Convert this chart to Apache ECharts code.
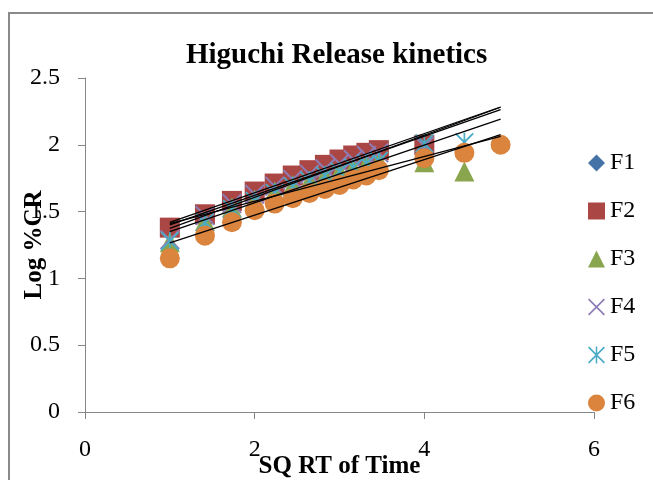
<!DOCTYPE html>
<html>
<head>
<meta charset="utf-8">
<script src="https://cdn.jsdelivr.net/npm/echarts@6/dist/echarts.min.js"></script>
<style>
html,body{margin:0;padding:0;background:#fff;}
#chart{width:653px;height:480px;}
</style>
</head>
<body>
<div id="chart"></div>
<script>
// Square root of time (x values)
var sqrtTime = [1, 1.414, 1.732, 2, 2.236, 2.449, 2.646, 2.828, 3, 3.162, 3.317, 3.464, 4, 4.472, 4.899];
var seriesNames = ['F1', 'F2', 'F3', 'F4', 'F5', 'F6'];
// Log % cumulative release values
var F1 = [1.36, 1.46, 1.56, 1.63, 1.69, 1.75, 1.79, 1.83, 1.87, 1.90, 1.92, 1.94, 1.98];
var F2 = [1.38, 1.48, 1.58, 1.65, 1.71, 1.77, 1.81, 1.85, 1.89, 1.92, 1.94, 1.96, 2.00];
var F3 = [1.27, 1.43, 1.53, 1.59, 1.65, 1.70, 1.73, 1.77, 1.80, 1.83, 1.86, 1.88, 1.87, 1.80];
var F4 = [1.29, 1.47, 1.56, 1.63, 1.69, 1.74, 1.78, 1.82, 1.86, 1.89, 1.92, 1.94, 1.99];
var F5 = [1.28, 1.42, 1.52, 1.58, 1.64, 1.69, 1.73, 1.77, 1.80, 1.83, 1.86, 1.88, 2.01, 2.02];
var F6 = [1.15, 1.32, 1.42, 1.51, 1.56, 1.60, 1.64, 1.67, 1.70, 1.74, 1.77, 1.81, 1.90, 1.94, 2.00];
var allValues = [F1, F2, F3, F4, F5, F6];

var colors = ['#4572A7', '#AA4643', '#89A54E', '#8E7CB5', '#4BACC6', '#DB843D'];
var xPath = 'path://M0,0.7 L0.7,0 L10,9.3 L9.3,10 Z M9.3,0 L10,0.7 L0.7,10 L0,9.3 Z';
var starPath = 'path://M0,0.7 L0.7,0 L10,9.3 L9.3,10 Z M9.3,0 L10,0.7 L0.7,10 L0,9.3 Z M4.55,0 L5.45,0 L5.45,10 L4.55,10 Z';
var symbols = ['diamond', 'rect', 'triangle', xPath, starPath, 'circle'];
var sizes = [15, 20, 20, 20, 19, 20];

var serif = '"Liberation Serif", "DejaVu Serif", serif';

function regress(xs, ys) {
  var n = ys.length, sx = 0, sy = 0, sxx = 0, sxy = 0;
  for (var i = 0; i < n; i++) { sx += xs[i]; sy += ys[i]; sxx += xs[i]*xs[i]; sxy += xs[i]*ys[i]; }
  var b = (n*sxy - sx*sy) / (n*sxx - sx*sx);
  var a = (sy - b*sx) / n;
  return {a: a, b: b};
}

var xMin = Math.min.apply(null, sqrtTime), xMax = Math.max.apply(null, sqrtTime);
var series = [];
allValues.forEach(function (vals, k) {
  series.push({
    name: seriesNames[k], type: 'scatter', symbol: symbols[k], symbolSize: sizes[k],
    itemStyle: {color: colors[k], opacity: 1},
    data: vals.map(function (v, i) { return [sqrtTime[i], v]; }),
    z: 2
  });
});
allValues.forEach(function (vals, k) {
  var r = regress(sqrtTime, vals);
  series.push({
    name: seriesNames[k] + ' trend', type: 'line', showSymbol: false, symbol: 'none', silent: true,
    lineStyle: {color: '#000', width: 1.3}, z: 5,
    data: [[xMin, r.a + r.b*xMin], [xMax, r.a + r.b*xMax]]
  });
});

var chart = echarts.init(document.getElementById('chart'), null, {renderer: 'canvas'});
chart.setOption({
  backgroundColor: '#fff',
  animation: false,
  title: {
    text: 'Higuchi Release kinetics', left: 181, top: 36,
    textStyle: {fontFamily: serif, fontWeight: 'bold', fontSize: 29, color: '#000'}
  },
  graphic: [{
    type: 'rect', shape: {x: 9, y: 13, width: 700, height: 520}, silent: true,
    style: {fill: 'none', stroke: '#8a8a8a', lineWidth: 2}
  }],
  legend: {
    data: seriesNames, orient: 'vertical', left: 583, top: 145,
    itemWidth: 17, itemHeight: 17, itemGap: 22,
    textStyle: {fontFamily: serif, fontSize: 24, color: '#000', lineHeight: 26}
  },
  grid: {left: 85, right: 59, top: 78, bottom: 68, containLabel: false, outerBoundsMode: 'none'},
  xAxis: {
    type: 'value', min: 0, max: 6, interval: 2,
    name: 'SQ RT of Time', nameLocation: 'middle', nameGap: 42, nameMoveOverlap: false,
    nameTextStyle: {fontFamily: serif, fontWeight: 'bold', fontSize: 25, color: '#000'},
    axisLine: {show: true, onZero: false, lineStyle: {color: '#868686'}},
    axisTick: {show: true, inside: false, length: 7, lineStyle: {color: '#868686'}},
    axisLabel: {fontFamily: serif, fontSize: 24, color: '#000', margin: 26},
    splitLine: {show: false}
  },
  yAxis: {
    type: 'value', min: 0, max: 2.5, interval: 0.5,
    name: 'Log %CR', nameLocation: 'middle', nameGap: 38, nameRotate: 90, nameMoveOverlap: false,
    nameTextStyle: {fontFamily: serif, fontWeight: 'bold', fontSize: 25, color: '#000'},
    axisLine: {show: true, onZero: false, lineStyle: {color: '#868686'}},
    axisTick: {show: true, inside: false, length: 7, lineStyle: {color: '#868686'}},
    axisLabel: {fontFamily: serif, fontSize: 24, color: '#000', margin: 25},
    splitLine: {show: false}
  },
  series: series
});
</script>
</body>
</html>
